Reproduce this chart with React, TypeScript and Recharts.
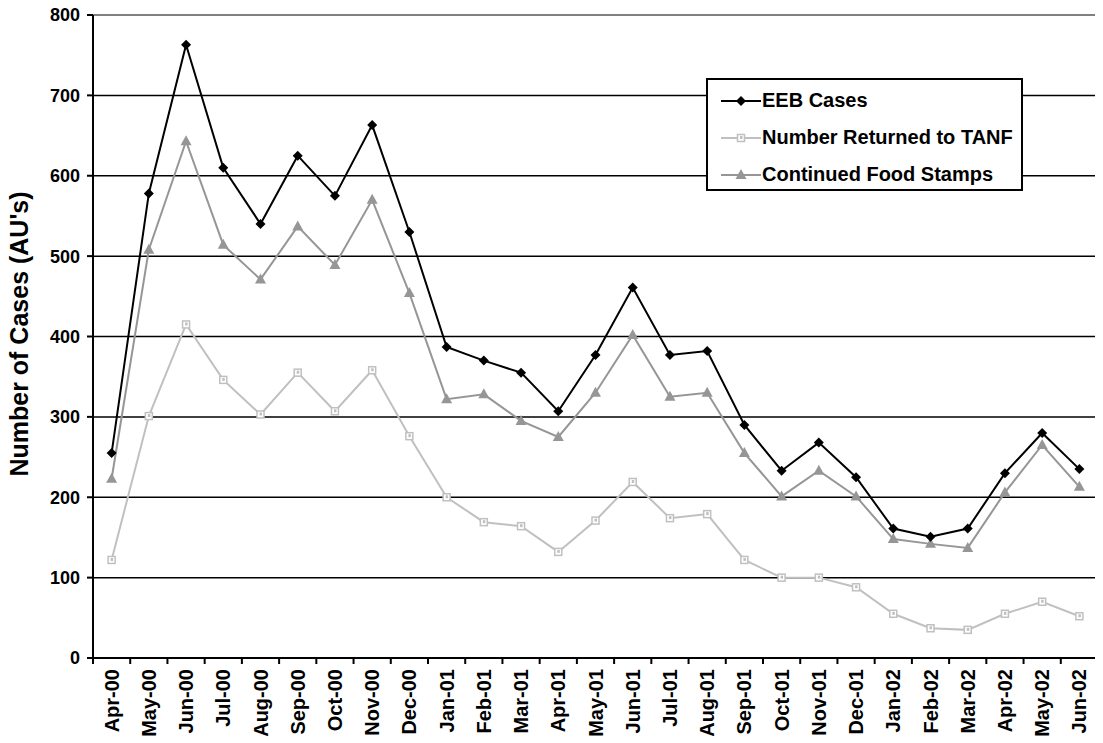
import { CartesianGrid, Line, LineChart, ReferenceLine, XAxis, YAxis } from "recharts";

const months = [
  "Apr-00", "May-00", "Jun-00", "Jul-00", "Aug-00", "Sep-00", "Oct-00", "Nov-00", "Dec-00",
  "Jan-01", "Feb-01", "Mar-01", "Apr-01", "May-01", "Jun-01", "Jul-01", "Aug-01", "Sep-01",
  "Oct-01", "Nov-01", "Dec-01", "Jan-02", "Feb-02", "Mar-02", "Apr-02", "May-02", "Jun-02",
];
const eebCases = [255, 578, 763, 610, 540, 625, 575, 663, 530, 387, 370, 355, 307, 377, 461, 377, 382, 290, 233, 268, 225, 161, 151, 161, 230, 280, 235];
const returnedTanf = [122, 301, 415, 346, 303, 355, 307, 358, 276, 200, 169, 164, 132, 171, 219, 174, 179, 122, 100, 100, 88, 55, 37, 35, 55, 70, 52];
const foodStamps = [223, 508, 643, 514, 471, 537, 489, 570, 454, 322, 328, 295, 275, 330, 402, 325, 330, 255, 201, 233, 201, 148, 142, 137, 206, 265, 213];
const yTicks = [0, 100, 200, 300, 400, 500, 600, 700, 800];

const data = months.map((m, i) => ({
  mes: m,
  eeb: eebCases[i],
  tanf: returnedTanf[i],
  fs: foodStamps[i],
}));

const FONT = "'Liberation Sans', Arial, sans-serif";
const COR_TANF = "#c0c0c0";
const COR_FS = "#969696";
// o gráfico ocupa a página inteira (anula a margem de 8px do body)
const W = 1103;
const H = 743;
const PLOT_L = 93;
const PLOT_R = 5;
const BAND = (W - PLOT_L - PLOT_R) / months.length;

function Diamond({ cx, cy }: any) {
  if (cx == null || cy == null) return null;
  return <path d={`M${cx},${cy - 5}L${cx + 5},${cy}L${cx},${cy + 5}L${cx - 5},${cy}Z`} fill="#000" />;
}

function Square({ cx, cy }: any) {
  if (cx == null || cy == null) return null;
  return (
    <g>
      <rect x={cx - 3.5} y={cy - 3.5} width={7} height={7} fill="#fff" stroke={COR_TANF} strokeWidth={1.5} />
      <rect x={cx - 1} y={cy - 2} width={2.5} height={3} fill={COR_TANF} />
    </g>
  );
}

function Triangle({ cx, cy }: any) {
  if (cx == null || cy == null) return null;
  return <path d={`M${cx},${cy - 6}L${cx + 5.5},${cy + 4}L${cx - 5.5},${cy + 4}Z`} fill={COR_FS} />;
}

function MonthTick({ x, y, payload, index }: any) {
  const last = index === months.length - 1;
  return (
    <g>
      <line x1={x - BAND / 2} y1={y - 8} x2={x - BAND / 2} y2={y - 2} stroke="#000" strokeWidth={2} />
      {last && <line x1={x + BAND / 2} y1={y - 8} x2={x + BAND / 2} y2={y - 2} stroke="#000" strokeWidth={2} />}
      <text
        x={x}
        y={y + 3}
        transform={`rotate(-90 ${x} ${y + 3})`}
        textAnchor="end"
        dominantBaseline="central"
        fontFamily={FONT}
        fontWeight="bold"
        fontSize={20}
        fill="#000"
      >
        {payload.value}
      </text>
    </g>
  );
}

function TituloY() {
  return (
    <text
      x={19}
      y={334}
      transform="rotate(-90 19 334)"
      textAnchor="middle"
      dominantBaseline="central"
      fontFamily={FONT}
      fontWeight="bold"
      fontSize={25}
      fill="#000"
    >
      Number of Cases (AU's)
    </text>
  );
}

function Legenda() {
  const item = (label: string, cor: string, Marker: any) => (
    <div style={{ display: "flex", alignItems: "center", height: 37 }}>
      <svg width={40} height={14} style={{ marginRight: 1 }}>
        <line x1={0} y1={7} x2={40} y2={7} stroke={cor} strokeWidth={2} />
        <Marker cx={20} cy={7} />
      </svg>
      <span>{label}</span>
    </div>
  );
  return (
    <div
      style={{
        position: "absolute",
        left: 706,
        top: 78,
        border: "2px solid #000",
        background: "#fff",
        width: 317,
        height: 113,
        boxSizing: "border-box",
        padding: "2px 0 0 13px",
        fontFamily: FONT,
        fontWeight: "bold",
        fontSize: 20,
        color: "#000",
        whiteSpace: "nowrap",
      }}
    >
      {item("EEB Cases", "#000", Diamond)}
      {item("Number Returned to TANF", COR_TANF, Square)}
      {item("Continued Food Stamps", COR_FS, Triangle)}
    </div>
  );
}

export default function App() {
  return (
    <div style={{ position: "relative", width: W, height: H, margin: "-8px 0 0 -8px" }}>
      <LineChart width={W} height={H} data={data} margin={{ top: 15, right: PLOT_R, left: 0, bottom: 0 }}>
        <CartesianGrid vertical={false} stroke="#000" strokeWidth={1.5} />
        <ReferenceLine y={800} stroke="#808080" strokeWidth={2} />
        <XAxis
          dataKey="mes"
          scale="band"
          interval={0}
          height={85}
          axisLine={{ stroke: "#000", strokeWidth: 2 }}
          tickLine={false}
          tick={<MonthTick />}
        />
        <YAxis
          width={PLOT_L}
          domain={[0, 800]}
          ticks={yTicks}
          interval={0}
          axisLine={{ stroke: "#000", strokeWidth: 2 }}
          tickLine={{ stroke: "#000", strokeWidth: 2 }}
          tickSize={6}
          tickMargin={7}
          tick={{ fill: "#000", fontSize: 18, fontWeight: "bold", fontFamily: FONT }}
        />
        <Line dataKey="tanf" stroke={COR_TANF} strokeWidth={2} dot={<Square />} isAnimationActive={false} />
        <Line dataKey="fs" stroke={COR_FS} strokeWidth={2} dot={<Triangle />} isAnimationActive={false} />
        <Line dataKey="eeb" stroke="#000" strokeWidth={2} dot={<Diamond />} isAnimationActive={false} />
        <TituloY />
      </LineChart>
      <Legenda />
    </div>
  );
}
